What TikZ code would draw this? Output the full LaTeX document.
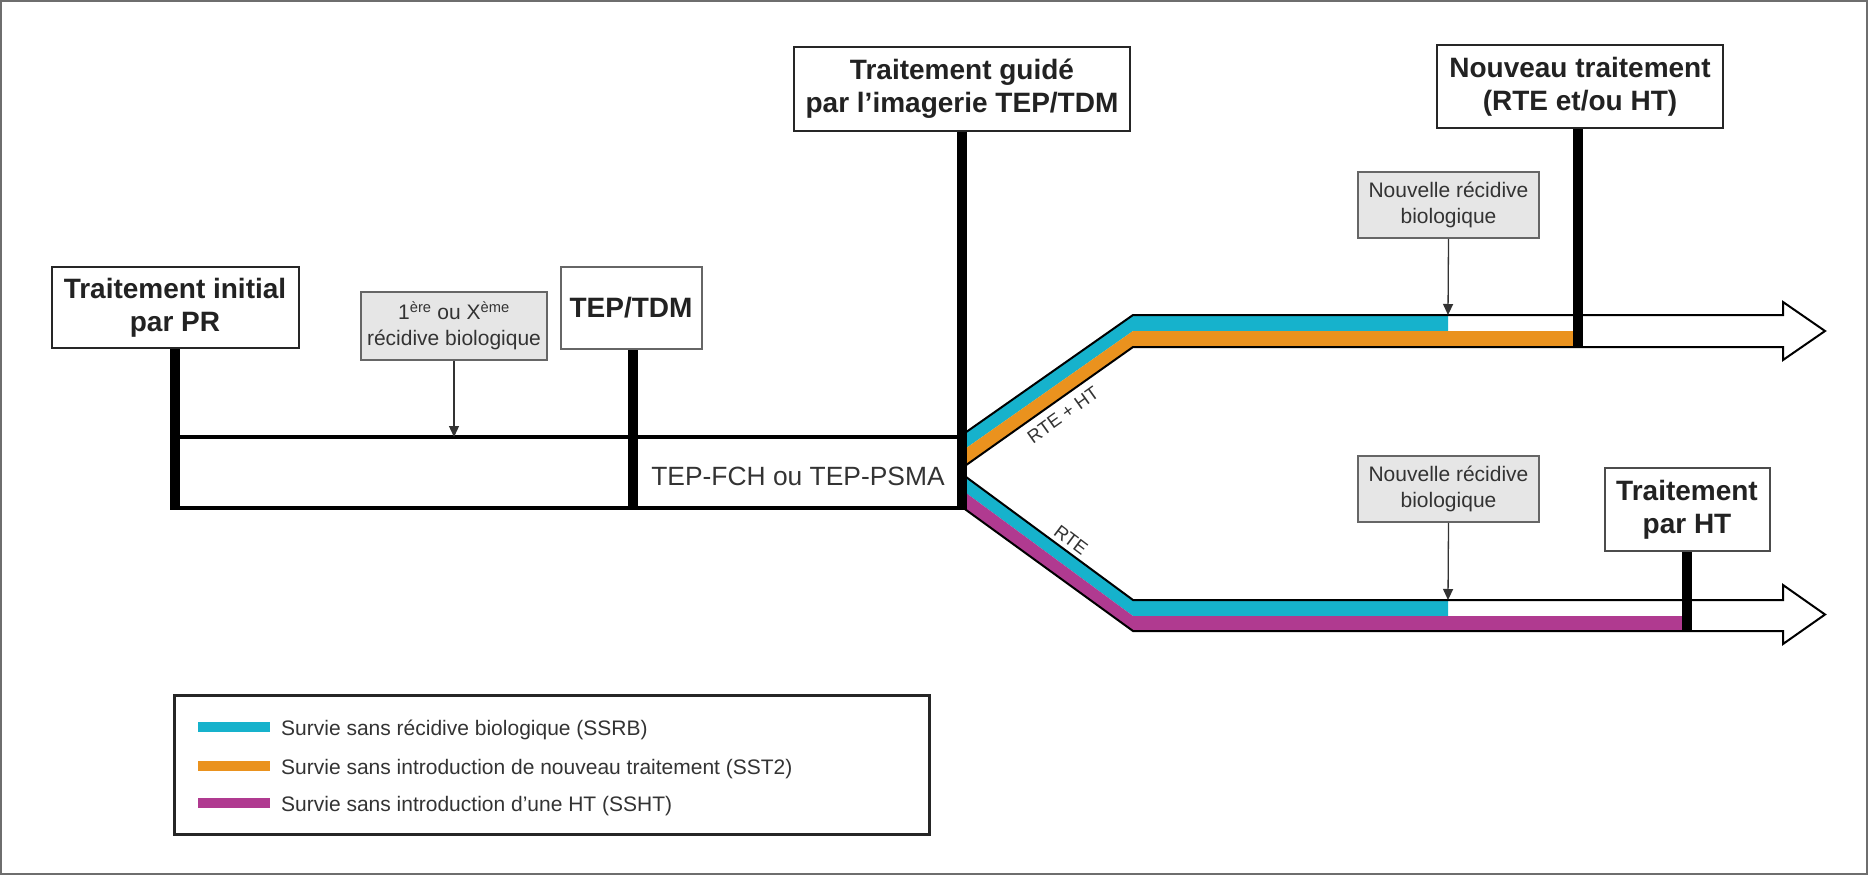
\documentclass[tikz,border=0pt]{standalone}
\usepackage{fontspec}
\setmainfont{Liberation Sans}
\usetikzlibrary{arrows.meta}
\definecolor{cy}{RGB}{22,178,204}
\definecolor{orng}{RGB}{234,146,30}
\definecolor{mag}{RGB}{176,58,144}
\definecolor{txt}{RGB}{34,34,34}
\definecolor{gtxt}{RGB}{51,51,51}
\definecolor{gfill}{RGB}{230,230,230}
\definecolor{frame}{RGB}{110,110,110}
\tikzset{
  headbox/.style={draw=black!85, line width=2pt, fill=white, text=txt, align=center,
    font=\fontsize{28}{33}\selectfont\bfseries, inner sep=0pt},
  graybox/.style={draw=black!60, line width=1.6pt, fill=gfill, text=gtxt, align=center,
    font=\fontsize{21}{26}\selectfont, inner sep=0pt},
  thickline/.style={line width=10pt, black},
  tline/.style={line width=4pt, black},
  outline/.style={line width=2pt, black, line join=miter},
  smallarrow/.style={line width=1.3pt, black!80, -{Triangle[length=11pt,width=10pt]}},
  branchlbl/.style={font=\fontsize{18.5}{20}\selectfont, text=gtxt, inner sep=0pt},
  legtxt/.style={font=\fontsize{21}{24}\selectfont, text=gtxt, anchor=base west, inner sep=0pt},
}
\begin{document}
\begin{tikzpicture}[x=1pt,y=-1pt]
\useasboundingbox (0,0) rectangle (1868,875);
\draw[frame, line width=2pt] (1,1) rectangle (1867,874);

% timeline coordinates
\coordinate (tTop) at (175,437);
\coordinate (tTopE) at (962,437);
\coordinate (tBot) at (175,508);
\coordinate (tBotE) at (962,508);
\coordinate (tEnd) at (962,510);
\coordinate (upTop) at (1448,315);
\coordinate (loTop) at (1448,600);
\coordinate (nvEnd) at (1578,347);
\coordinate (htEnd) at (1687,631);

% coloured bands
\fill[cy] (962,435) -- (1133,315) -- (1448,315) -- (1448,331) -- (1133,331) -- (962,451) -- cycle;
\fill[orng] (962,451) -- (1133,331) -- (1578,331) -- (1578,347) -- (1133,347) -- (962,468) -- cycle;
\fill[cy] (962,474) -- (1133,600) -- (1448,600) -- (1448,616) -- (1133,616) -- (962,490) -- cycle;
\fill[mag] (962,490) -- (1133,616) -- (1687,616) -- (1687,631) -- (1133,631) -- (962,507) -- cycle;

% band outlines with arrows
\draw[outline] (962,435) -- (1133,315) -- (1783,315) -- (1783,302) -- (1825,331) -- (1783,360) -- (1783,347) -- (1133,347) -- (962,468);
\draw[outline] (962,474) -- (1133,600) -- (1783,600) -- (1783,585) -- (1825,614.5) -- (1783,644) -- (1783,631) -- (1133,631) -- (962,507);

% timeline box
\draw[tline] (tTop) -- (tTopE);
\draw[tline] (tBot) -- (tBotE);

% boxes
\node[headbox, minimum width=247pt, minimum height=81pt] (pr) at (175,307.5) {Traitement initial\\par PR};
\node[headbox, draw=black!60, minimum width=141pt, minimum height=82pt] (tep) at (631,308) {TEP/TDM};
\node[headbox, minimum width=336pt, minimum height=84pt] (guide) at (962,89) {Traitement guidé\\par l’imagerie TEP/TDM};
\node[headbox, minimum width=286pt, minimum height=83pt] (nouv) at (1580,86.5) {Nouveau traitement\\(RTE et/ou HT)};
\node[headbox, draw=black!70, minimum width=165pt, minimum height=83pt] (ht) at (1687,509.5) {Traitement\\par HT};

\node[graybox, minimum width=186pt, minimum height=68pt] (g1) at (454,326) {1\textsuperscript{ère} ou X\textsuperscript{ème}\\récidive biologique};
\node[graybox, minimum width=181pt, minimum height=66pt] (g2) at (1448.5,205) {Nouvelle récidive\\biologique};
\node[graybox, minimum width=181pt, minimum height=66pt] (g3) at (1448.5,489) {Nouvelle récidive\\biologique};

% vertical thick connectors
\draw[thickline] (pr.south) -- (pr.south |- tEnd);
\draw[thickline] (tep.south -| 633,0) -- (633,510);
\draw[thickline] (guide.south) -- (guide.south |- tEnd);
\draw[thickline] (nouv.south -| nvEnd) -- (nvEnd);
\draw[thickline] (ht.south) -- (ht.south |- htEnd);

% small arrows
\draw[smallarrow] (g1.south) -- (g1.south |- tTop);
\draw[smallarrow] (g2.south) -- (upTop);
\draw[smallarrow] (g3.south) -- (loTop);

% texts
\node[font=\fontsize{26.4}{30}\selectfont, text=gtxt, anchor=base, inner sep=0pt] (fch) at (798,485) {TEP-FCH ou TEP-PSMA};
\node[branchlbl, rotate=35.5] (lbl1) at (1063,415) {RTE + HT};
\node[branchlbl, rotate=-37] (lbl2) at (1071,540) {RTE};

% legend
\node[draw=black!85, line width=3pt, minimum width=755pt, minimum height=139pt, inner sep=0pt] (leg) at (551.5,764.5) {};
\fill[cy] (198,722) rectangle (270,732);
\fill[orng] (198,761) rectangle (270,771);
\fill[mag] (198,798) rectangle (270,808);
\node[legtxt] (l1) at (281,735) {Survie sans récidive biologique (SSRB)};
\node[legtxt] (l2) at (281,774) {Survie sans introduction de nouveau traitement (SST2)};
\node[legtxt] (l3) at (281,811) {Survie sans introduction d’une HT (SSHT)};
\end{tikzpicture}
\end{document}
